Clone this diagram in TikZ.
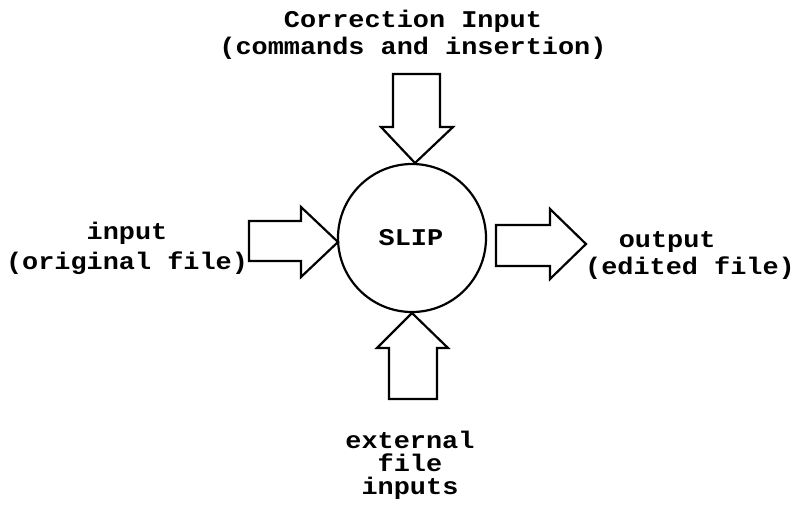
\documentclass[tikz,border=0pt]{standalone}
\usepackage{fontspec}
\setmonofont[FakeStretch=1.12]{Liberation Mono}
\begin{document}
\begin{tikzpicture}[x=1pt,y=-1pt,
  lbl/.style={font=\ttfamily\bfseries\fontsize{24}{#1}\selectfont, inner sep=0pt, align=center, anchor=base},
  lbl/.default=26,
  blockarrow/.style={draw=black, line width=2.2pt, line join=miter, fill=white}]
\useasboundingbox (0,0) rectangle (796,507);

% central process
\node[draw, circle, line width=2.2pt, minimum size=148pt, inner sep=0pt] (slip) at (412,238) {};
\node[lbl] (slipname) at (411,245) {SLIP};

% block arrows
\draw[blockarrow] (393,74) -- (440,74) -- (440,127) -- (453,127) -- (415,163) -- (381,127) -- (393,127) -- cycle;
\draw[blockarrow] (249,221) -- (301,221) -- (301,207) -- (338,242) -- (301,277) -- (301,261) -- (249,261) -- cycle;
\draw[blockarrow] (496,225) -- (550,225) -- (550,209) -- (586,244) -- (550,279) -- (550,266) -- (496,266) -- cycle;
\draw[blockarrow] (412,313) -- (448,348) -- (437,348) -- (437,399) -- (389,399) -- (389,348) -- (377,348) -- cycle;

% labels (anchored at the baseline of their last line)
\node[lbl=27] (corr) at (413,54) {Correction Input\\(commands and insertion)};
\node[lbl=30] (inp) at (127,269) {input\\(original file)};
\node[lbl=27] (outp) at (690,274) {\hspace*{-1.9em}output\\(edited file)};
\node[lbl=23] (ext) at (410,494) {external\\file\\inputs};
\end{tikzpicture}
\end{document}
